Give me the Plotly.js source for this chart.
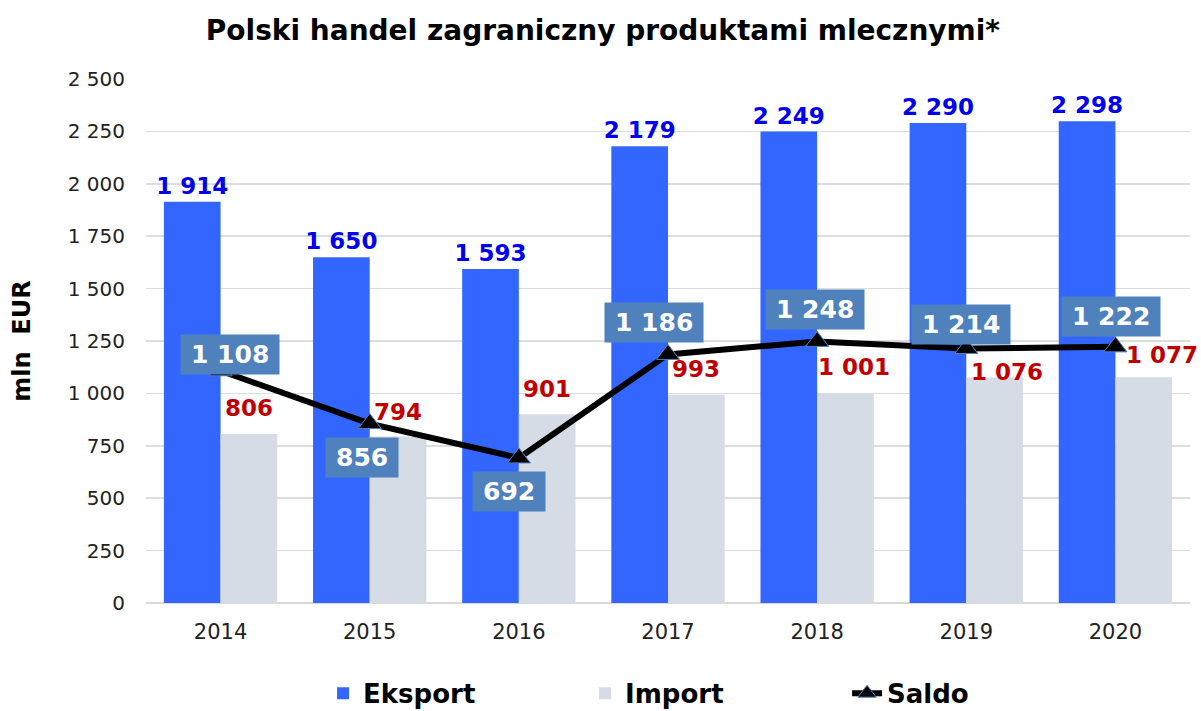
<!DOCTYPE html>
<html>
<head>
<meta charset="utf-8">
<script src="https://cdn.plot.ly/plotly-3.0.1.min.js"></script>
<style>html,body{margin:0;padding:0;background:#fff;}#chart{width:1201px;height:711px;}</style>
</head>
<body>
<div id="chart"></div>
<script>
const years = ['2014', '2015', '2016', '2017', '2018', '2019', '2020'];
const eksport = [1914, 1650, 1593, 2179, 2249, 2290, 2298];
const importVals = [806, 794, 901, 993, 1001, 1076, 1077];
const saldo = [1108, 856, 692, 1186, 1248, 1214, 1222];

// label placement offsets (px)
const importLabelDx = [0, 0, 0, 0, 9, 13, 19];
const importLabelDy = [26, 25, 25, 26, 26, 5, 22];
const saldoLabelDx = [9, -8, -10, -14, -2, -5, -4];
const saldoLabelDy = [16, -34, -34, 32, 32, 24, 30];

const FONT = 'DejaVu Sans, Verdana, sans-serif';
function fmt(v) { return String(v).replace(/\B(?=(\d{3})+(?!\d))/g, ' '); }

const traces = [
  {
    type: 'bar', name: 'Eksport', x: years, y: eksport,
    marker: {color: '#3366FF'},
    text: eksport.map(fmt), texttemplate: '%{text}', textposition: 'outside',
    constraintext: 'none', cliponaxis: false,
    textfont: {family: FONT, size: 23, color: '#0000EE', weight: 'bold'},
    hoverinfo: 'skip'
  },
  {
    type: 'bar', name: 'Import', x: years, y: importVals,
    marker: {color: '#D6DCE5'},
    hoverinfo: 'skip'
  },
  {
    type: 'scatter', mode: 'lines+markers', name: 'Saldo', x: years, y: saldo,
    line: {color: '#000000', width: 6},
    marker: {symbol: 'triangle-up', size: 20, color: '#000000', line: {color: '#4F81BD', width: 1}},
    cliponaxis: false,
    hoverinfo: 'skip'
  }
];

// on a category axis, annotation x is the category's serial number
const annotations = [];
importVals.forEach((v, i) => {
  annotations.push({
    x: i, y: v, xref: 'x', yref: 'y', showarrow: false,
    text: fmt(v), xshift: 28 + importLabelDx[i], yshift: importLabelDy[i],
    xanchor: 'center', yanchor: 'middle',
    font: {family: FONT, size: 23, color: '#C00000', weight: 'bold'}
  });
});
saldo.forEach((v, i) => {
  annotations.push({
    x: i, y: v, xref: 'x', yref: 'y', showarrow: false,
    text: '\u2009' + fmt(v) + '\u2009', xshift: saldoLabelDx[i], yshift: saldoLabelDy[i],
    xanchor: 'center', yanchor: 'middle',
    bgcolor: '#4F81BD', borderpad: 5,
    font: {family: FONT, size: 25, color: '#FFFFFF', weight: 'bold'}
  });
});

const layout = {
  width: 1201, height: 711,
  paper_bgcolor: '#FFFFFF', plot_bgcolor: '#FFFFFF',
  separators: ', ',
  margin: {l: 146, r: 11, t: 79, b: 108},
  font: {family: FONT, color: '#222222'},
  title: {
    text: 'Polski handel zagraniczny produktami mlecznymi*',
    font: {family: FONT, size: 28, color: '#000000', weight: 'bold'},
    x: 0.502, xref: 'container', xanchor: 'center',
    y: 0.958, yref: 'container', yanchor: 'middle'
  },
  barmode: 'group', bargap: 0.24, bargroupgap: 0,
  xaxis: {
    type: 'category', range: [-0.5, 6.5], autorange: false,
    showgrid: false, zeroline: false, showline: false,
    ticks: '', tickfont: {family: FONT, size: 21, color: '#222222'},
    ticklabelstandoff: 14
  },
  yaxis: {
    range: [0, 2500], autorange: false, dtick: 250, tickformat: ',d',
    showgrid: true, gridcolor: '#DDDDDD', gridwidth: 1.5,
    zeroline: true, zerolinecolor: '#D9D9D9', zerolinewidth: 1.5,
    showline: false, ticks: '',
    tickfont: {family: FONT, size: 20, color: '#222222'},
    ticklabelstandoff: 20,
    title: {text: 'mln  EUR', font: {family: FONT, size: 24, color: '#000000', weight: 'bold'}, standoff: 30}
  },
  showlegend: true,
  legend: {
    orientation: 'h', xref: 'container', yref: 'container',
    x: 0.269, xanchor: 'left', y: 0.058, yanchor: 'top',
    entrywidth: 217, entrywidthmode: 'pixels',
    font: {family: FONT, size: 26, color: '#000000', weight: 'bold'},
    traceorder: 'normal'
  },
  annotations: annotations
};

Plotly.newPlot('chart', traces, layout, {displayModeBar: false, staticPlot: true});
</script>
</body>
</html>
